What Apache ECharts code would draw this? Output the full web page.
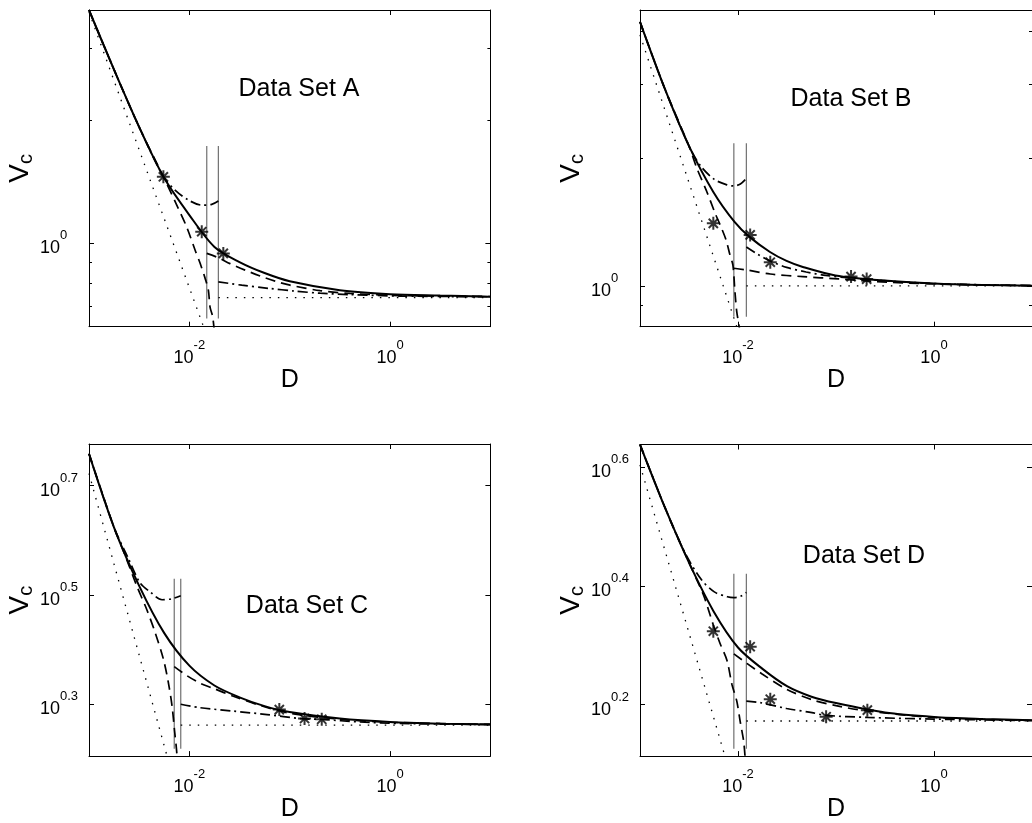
<!DOCTYPE html>
<html>
<head>
<meta charset="utf-8">
<script src="https://cdn.jsdelivr.net/npm/echarts@6/dist/echarts.min.js"></script>
<style>html,body{margin:0;padding:0;background:#fff}#c{width:1032px;height:823px}</style>
</head>
<body>
<div id="c"></div>
<script>
// ---------------- DATA (D, Vc) ----------------
const xLim = [0.001, 10];
const xTicks = [0.01, 1];

// Panel A
const A_yLim = [0.625, 3.73];
const A_yMajor = [1];
const A_yMinor = [0.7, 0.8, 0.9, 2, 3];
const A_solid = [[0.001,3.73],[0.00178,2.66],[0.00316,1.928],[0.00562,1.445],[0.01,1.173],[0.0178,0.980],[0.0316,0.900],[0.0562,0.846],[0.1,0.808],[0.316,0.768],[1,0.751],[3.16,0.745],[10,0.740]];
const A_dotSteep = [[0.001,3.69],[0.0155,0.579]];
const A_dotFlat = [[0.01946,0.736],[10,0.736]];
const A_vlineD = [0.01491, 0.01946];
const A_vlineV = [0.655, 1.732];
const A_ddSmall = [[0.001,3.73],[0.00178,2.66],[0.00316,1.928],[0.00551,1.456],[0.0072,1.351],[0.00977,1.277],[0.01329,1.241],[0.01671,1.246],[0.01946,1.270]];
const A_dashSmall = [[0.001,3.73],[0.00178,2.66],[0.00316,1.928],[0.00551,1.456],[0.00749,1.241],[0.00942,1.096],[0.0114,0.963],[0.01278,0.895],[0.01434,0.822],[0.01547,0.768],[0.01608,0.698],[0.01711,0.660],[0.01804,0.579]];
const A_dashLarge = [[0.01491,0.945],[0.01946,0.922],[0.02544,0.892],[0.0359,0.860],[0.0507,0.832],[0.0715,0.808],[0.1008,0.790],[0.2007,0.766],[0.399,0.754],[1.258,0.745],[10,0.741]];
const A_ddLarge = [[0.01946,0.805],[0.0333,0.790],[0.0613,0.776],[0.113,0.764],[0.2007,0.755],[0.399,0.749],[1.258,0.743],[10,0.740]];
const A_stars = [[0.00551,1.456],[0.01329,1.068],[0.0218,0.945]];

// Panel B
const B_yLim = [0.801, 4.49];
const B_yMajor = [1];
const B_yMinor = [0.9, 2, 3, 4];
const B_solid = [[0.001,4.21],[0.001778,2.938],[0.003157,2.143],[0.0056,1.668],[0.00922,1.417],[0.0131,1.306],[0.0212,1.203],[0.0313,1.146],[0.0459,1.109],[0.0986,1.059],[0.3106,1.030],[1,1.0137],[3.154,1.0055],[10,1.0016]];
const B_dotSteep = [[0.001,3.922],[0.01077,0.745]];
const B_dotFlat = [[0.01217,1.0],[10,1.0]];
const B_vlineD = [0.00907, 0.01217];
const B_vlineV = [0.846, 2.175];
const B_ddSmall = [[0.001,4.21],[0.001778,2.938],[0.003157,2.143],[0.004157,1.921],[0.005731,1.786],[0.007723,1.733],[0.00907,1.723],[0.01058,1.742],[0.01217,1.796]];
const B_dashSmall = [[0.001,4.21],[0.001778,2.938],[0.003157,2.143],[0.003793,1.901],[0.004772,1.677],[0.005824,1.488],[0.006578,1.394],[0.007551,1.285],[0.008276,1.184],[0.008866,1.121],[0.009281,0.978],[0.009717,0.868],[0.01029,0.800],[0.01048,0.745]];
const B_dashLarge = [[0.00907,1.101],[0.01217,1.091],[0.02135,1.067],[0.0459,1.052],[0.1064,1.039],[0.2466,1.025],[1,1.011],[10,1.0016]];
const B_ddLarge = [[0.01217,1.236],[0.01573,1.190],[0.0212,1.146],[0.0313,1.106],[0.0496,1.079],[0.0784,1.059],[0.1424,1.044],[0.391,1.025],[1.231,1.011],[10,1.0016]];
const B_stars = [[0.0056,1.406],[0.01331,1.320],[0.02135,1.138],[0.1424,1.052],[0.2055,1.038]];

// Panel C
const C_yLim = [1.603, 5.976];
const C_yMajorExp = [0.3, 0.5, 0.7];
const C_yMinor = [];
const C_solid = [[0.001,5.735],[0.001778,4.200],[0.003162,3.286],[0.005623,2.692],[0.01,2.347],[0.01778,2.159],[0.03162,2.054],[0.05623,1.979],[0.1,1.930],[0.3162,1.878],[1,1.851],[3.162,1.838],[10,1.832]];
const C_dotSteep = [[0.001,5.278],[0.00656,1.510]];
const C_dotFlat = [[0.00821,1.826],[10,1.826]];
const C_vlineD = [0.00707, 0.00821];
const C_vlineV = [1.653, 3.387];
const C_ddSmall = [[0.001,5.735],[0.001778,4.200],[0.002449,3.70],[0.003227,3.327],[0.004059,3.204],[0.005346,3.099],[0.006725,3.112],[0.00821,3.152]];
const C_dashSmall = [[0.001,5.735],[0.001778,4.200],[0.002287,3.738],[0.00299,3.286],[0.003763,2.974],[0.004549,2.703],[0.005507,2.415],[0.006177,2.186],[0.006725,1.979],[0.007121,1.784],[0.007489,1.628],[0.007628,1.510]];
const C_dashLarge = [[0.00707,2.337],[0.00942,2.251],[0.01278,2.180],[0.01734,2.133],[0.02745,2.063],[0.0507,1.985],[0.1008,1.920],[0.3176,1.872],[1,1.849],[10,1.832]];
const C_ddLarge = [[0.00821,1.995],[0.01278,1.966],[0.02726,1.938],[0.0595,1.910],[0.1268,1.878],[0.2086,1.871],[0.5026,1.851],[1.258,1.839],[10,1.832]];
const C_stars = [[0.0788,1.950],[0.1406,1.878],[0.2086,1.872]];

// Panel D
const D_yLim = [1.299, 4.341];
const D_yMajorExp = [0.2, 0.4, 0.6];
const D_yMinor = [];
const D_solid = [[0.001,4.34],[0.001778,3.415],[0.003162,2.747],[0.005623,2.277],[0.01,1.978],[0.01778,1.821],[0.03162,1.703],[0.05623,1.635],[0.1,1.595],[0.3162,1.538],[1,1.512],[3.162,1.500],[10,1.492]];
const D_dotSteep = [[0.001,4.011],[0.0081,1.230]];
const D_dotFlat = [[0.01217,1.488],[10,1.488]];
const D_vlineD = [0.00907, 0.01217];
const D_vlineV = [1.336, 2.633];
const D_ddSmall = [[0.001,4.34],[0.001778,3.415],[0.002813,2.874],[0.004224,2.573],[0.005731,2.453],[0.00778,2.407],[0.00907,2.399],[0.01058,2.411],[0.01217,2.448]];
const D_dashSmall = [[0.001,4.34],[0.001778,3.415],[0.003162,2.747],[0.004453,2.421],[0.0056,2.158],[0.006578,2.007],[0.007723,1.881],[0.008663,1.716],[0.009717,1.607],[0.01058,1.478],[0.0114,1.379],[0.0118,1.297],[0.012,1.230]];
const D_dashLarge = [[0.00907,1.930],[0.01231,1.860],[0.01764,1.785],[0.0313,1.683],[0.0562,1.617],[0.1,1.579],[0.2089,1.547],[1,1.509],[10,1.491]];
const D_ddLarge = [[0.01217,1.607],[0.01674,1.598],[0.0313,1.562],[0.0569,1.537],[0.0784,1.521],[0.2089,1.509],[1,1.499],[10,1.491]];
const D_stars = [[0.0056,2.107],[0.01331,1.984],[0.02135,1.619],[0.0793,1.513],[0.2089,1.552]];

const titles = ['Data Set A', 'Data Set B', 'Data Set C', 'Data Set D'];

// ---------------- CHART ----------------
const FONT = "'Liberation Sans', Arial, Helvetica, sans-serif";
const pow10 = e => Math.pow(10, e);

const panels = [
  {grid:{left:89, top:10, width:401.4, height:316.7}, yLim:A_yLim, yMajor:A_yMajor, yMinor:A_yMinor,
   solid:A_solid, dotSteep:A_dotSteep, dotFlat:A_dotFlat, vD:A_vlineD, vV:A_vlineV, ddSmall:A_ddSmall, dashSmall:A_dashSmall, dashLarge:A_dashLarge, ddLarge:A_ddLarge, stars:A_stars, title:titles[0], tpos:[299,89]},
  {grid:{left:640, top:10, width:401.4, height:316.7}, yLim:B_yLim, yMajor:B_yMajor, yMinor:B_yMinor,
   solid:B_solid, dotSteep:B_dotSteep, dotFlat:B_dotFlat, vD:B_vlineD, vV:B_vlineV, ddSmall:B_ddSmall, dashSmall:B_dashSmall, dashLarge:B_dashLarge, ddLarge:B_ddLarge, stars:B_stars, title:titles[1], tpos:[851,99]},
  {grid:{left:89, top:444, width:401.4, height:316.7}, yLim:C_yLim, yMajor:C_yMajorExp.map(pow10), yMinor:C_yMinor,
   solid:C_solid, dotSteep:C_dotSteep, dotFlat:C_dotFlat, vD:C_vlineD, vV:C_vlineV, ddSmall:C_ddSmall, dashSmall:C_dashSmall, dashLarge:C_dashLarge, ddLarge:C_ddLarge, stars:C_stars, title:titles[2], tpos:[307,606]},
  {grid:{left:640, top:444.5, width:401.4, height:316.2}, yLim:D_yLim, yMajor:D_yMajorExp.map(pow10), yMinor:D_yMinor,
   solid:D_solid, dotSteep:D_dotSteep, dotFlat:D_dotFlat, vD:D_vlineD, vV:D_vlineV, ddSmall:D_ddSmall, dashSmall:D_dashSmall, dashLarge:D_dashLarge, ddLarge:D_ddLarge, stars:D_stars, title:titles[3], tpos:[864,556]}
];

function expLabel(v) {
  let e = Math.round(Math.log10(v) * 10) / 10;
  const s = Math.abs(e - Math.round(e)) < 1e-9 ? String(Math.round(e)) : e.toFixed(1);
  return '{b|10}{e|' + s + '}';
}
const richTick = {
  b: {fontSize: 18, fontFamily: FONT, color: '#000', lineHeight: 28, verticalAlign: 'bottom'},
  e: {fontSize: 13, fontFamily: FONT, color: '#000', lineHeight: 10, verticalAlign: 'top'}
};
const blackLine = {show: true, onZero: false, lineStyle: {color: '#000', width: 1}};
const noLine = {show: false};

const grids = [], xAxes = [], yAxes = [], series = [], graphics = [];

panels.forEach((p, g) => {
  grids.push(Object.assign({containLabel: false}, p.grid));
  const xBase = {type: 'log', logBase: 10, gridIndex: g, min: xLim[0], max: xLim[1], splitLine: {show: false}, minorTick: {show: false}, minorSplitLine: {show: false}};
  xAxes.push(Object.assign({}, xBase, {
    position: 'bottom', axisLine: blackLine,
    axisTick: {show: true, inside: true, length: 5, customValues: xTicks, lineStyle: {color: '#000'}},
    axisLabel: {show: true, customValues: xTicks, formatter: expLabel, margin: 12, rich: richTick},
    name: 'D', nameLocation: 'middle', nameGap: 38,
    nameTextStyle: {fontSize: 25, fontFamily: FONT, color: '#000'}
  }));
  xAxes.push(Object.assign({}, xBase, {
    position: 'top', axisLine: blackLine,
    axisTick: {show: true, inside: true, length: 5, customValues: xTicks, lineStyle: {color: '#000'}},
    axisLabel: {show: false}
  }));
  const yBase = {type: 'log', logBase: 10, gridIndex: g, min: p.yLim[0], max: p.yLim[1], splitLine: {show: false}, minorTick: {show: false}, minorSplitLine: {show: false}};
  yAxes.push(Object.assign({}, yBase, {
    position: 'left', axisLine: blackLine,
    axisTick: {show: true, inside: true, length: 5, customValues: p.yMajor, lineStyle: {color: '#000'}},
    axisLabel: {show: true, customValues: p.yMajor, formatter: expLabel, margin: 49, align: 'left', rich: richTick},
    name: '{v|V}{c|c}', nameLocation: 'middle', nameRotate: 90, nameGap: 50,
    nameTextStyle: {rich: {
      v: {fontSize: 28, fontFamily: FONT, color: '#000', lineHeight: 32, verticalAlign: 'middle'},
      c: {fontSize: 20, fontFamily: FONT, color: '#000', lineHeight: 14, verticalAlign: 'bottom'}
    }}
  }));
  yAxes.push(Object.assign({}, yBase, {
    position: 'left', axisLine: noLine,
    axisTick: {show: p.yMinor.length > 0, inside: true, length: 3, customValues: p.yMinor, lineStyle: {color: '#000'}},
    axisLabel: {show: false}
  }));
  yAxes.push(Object.assign({}, yBase, {
    position: 'right', axisLine: blackLine,
    axisTick: {show: true, inside: true, length: 5, customValues: p.yMajor, lineStyle: {color: '#000'}},
    axisLabel: {show: false}
  }));
  yAxes.push(Object.assign({}, yBase, {
    position: 'right', axisLine: noLine,
    axisTick: {show: p.yMinor.length > 0, inside: true, length: 3, customValues: p.yMinor, lineStyle: {color: '#000'}},
    axisLabel: {show: false}
  }));

  const base = {type: 'line', xAxisIndex: 2 * g, yAxisIndex: 4 * g, showSymbol: false, symbol: 'none', silent: true, animation: false, clip: true};
  const solidStyle = {color: '#000', width: 2, type: 'solid'};
  const dashStyle = {color: '#000', width: 1.7, type: [10, 6]};
  const ddStyle = {color: '#000', width: 1.7, type: [10, 4, 2, 4]};
  const dotStyle = {color: '#000', width: 1.3, type: [1.5, 7]};
  const vStyle = {color: '#707070', width: 1.2, type: 'solid'};

  p.vD.forEach(d => {
    series.push(Object.assign({}, base, {data: [[d, p.vV[0]], [d, p.vV[1]]], lineStyle: vStyle, z: 2}));
  });
  series.push(Object.assign({}, base, {data: p.dotSteep, lineStyle: dotStyle, z: 3}));
  series.push(Object.assign({}, base, {data: p.dotFlat, lineStyle: dotStyle, z: 3}));
  series.push(Object.assign({}, base, {data: p.dashSmall, lineStyle: dashStyle, z: 4, smooth: 0.3}));
  series.push(Object.assign({}, base, {data: p.dashLarge, lineStyle: dashStyle, z: 4, smooth: 0.3}));
  series.push(Object.assign({}, base, {data: p.ddSmall, lineStyle: ddStyle, z: 4, smooth: 0.3}));
  series.push(Object.assign({}, base, {data: p.ddLarge, lineStyle: ddStyle, z: 4, smooth: 0.3}));
  series.push(Object.assign({}, base, {data: p.solid, lineStyle: solidStyle, z: 5, smooth: 0.3}));
  series.push({
    type: 'scatter', xAxisIndex: 2 * g, yAxisIndex: 4 * g, data: p.stars, silent: true, animation: false, z: 6,
    symbol: 'path://M0,-10L0,10M-10,0L10,0M-7.07,-7.07L7.07,7.07M-7.07,7.07L7.07,-7.07',
    symbolSize: 13, symbolKeepAspect: true,
    itemStyle: {color: 'rgba(0,0,0,0)', borderColor: '#000', borderWidth: 2}
  });

  graphics.push({
    type: 'text', x: p.tpos[0], y: p.tpos[1], silent: true,
    style: {text: p.title, font: '25px ' + FONT, fill: '#000', align: 'center', verticalAlign: 'middle'}
  });
});

const chart = echarts.init(document.getElementById('c'), null, {renderer: 'canvas'});
chart.setOption({
  animation: false,
  backgroundColor: '#fff',
  grid: grids,
  xAxis: xAxes,
  yAxis: yAxes,
  series: series,
  graphic: graphics
});
</script>
</body>
</html>
